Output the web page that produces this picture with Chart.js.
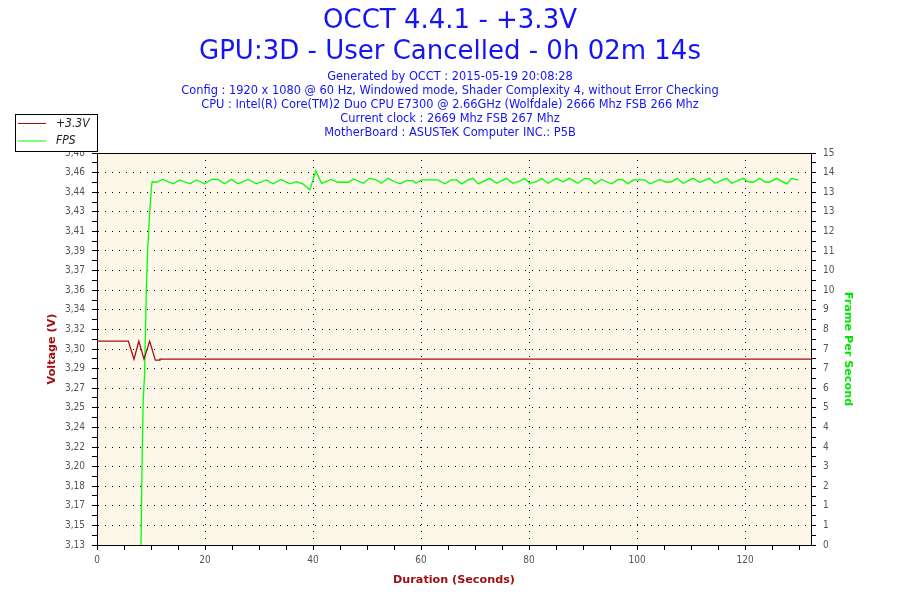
<!DOCTYPE html>
<html>
<head>
<meta charset="utf-8">
<title>OCCT 4.4.1 - +3.3V</title>
<script src="https://cdn.jsdelivr.net/npm/chart.js@4/dist/chart.umd.min.js"></script>
<style>
  html, body { margin: 0; padding: 0; background: #fff; }
  #wrap { width: 900px; height: 600px; }
</style>
</head>
<body>
<div id="wrap"><canvas id="occt" width="900" height="600"></canvas></div>
<script>
// values
const voltTime = [0, 5.8, 6.85, 7.75, 8.7, 9.75, 10.8, 11.6, 11.65, 132.2];
const voltValues = [3.312, 3.312, 3.296, 3.312, 3.296, 3.312, 3.295, 3.295, 3.296, 3.296];

const fpsTime = [
  8.15, 8.35, 8.55, 8.8, 9.15, 9.4, 9.75, 10.05, 10.2, 11.0,
  12.2, 14.1, 15.3, 17.2, 18.4, 19.9, 21.2, 22.4, 23.6, 24.9,
  26.1, 28.0, 29.5, 31.4, 32.6, 34.1, 35.7, 36.9, 38.1, 39.4,
  40.5, 41.6, 43.4, 44.6, 46.5, 47.5, 49.3, 50.5, 51.7, 52.7,
  53.9, 55.1, 56.1, 57.3, 58.5, 59.1, 60.1, 63.1, 64.4, 65.6,
  66.6, 67.5, 68.7, 69.6, 70.6, 72.7, 74.0, 75.8, 77.0, 78.0,
  79.2, 80.1, 81.4, 82.3, 83.5, 85.1, 86.3, 87.5, 89.0, 90.3,
  91.2, 92.2, 93.4, 94.3, 95.3, 96.5, 97.4, 98.3, 99.3, 101.4,
  102.4, 104.2, 105.4, 106.4, 107.4, 108.5, 110.4, 111.6, 113.4, 114.4,
  116.6, 117.5, 119.6, 120.6, 121.5, 122.7, 123.6, 124.5, 125.8, 127.7,
  128.6, 129.8
];
const fpsValues = [
  0, 3.2, 5.5, 6.5, 9.9, 11.4, 12.7, 13.6, 13.9, 13.88,
  13.99, 13.82, 13.97, 13.82, 13.97, 13.82, 13.99, 13.99, 13.82, 13.99,
  13.82, 13.99, 13.82, 13.97, 13.82, 13.99, 13.82, 13.90, 13.82, 13.59,
  14.31, 13.84, 13.99, 13.88, 13.88, 14.01, 13.84, 14.03, 13.97, 13.84,
  14.03, 13.90, 13.82, 13.94, 13.94, 13.84, 13.97, 13.97, 13.82, 13.97,
  13.97, 13.82, 13.97, 14.03, 13.82, 14.03, 13.84, 14.03, 13.84, 13.90,
  14.03, 13.84, 13.90, 14.03, 13.84, 14.03, 13.90, 14.03, 13.84, 14.03,
  14.01, 13.82, 13.99, 13.90, 13.82, 13.99, 13.97, 13.82, 13.97, 13.97,
  13.82, 13.99, 13.88, 13.90, 14.03, 13.84, 14.03, 13.88, 14.03, 13.84,
  14.03, 13.84, 14.03, 13.90, 13.88, 14.03, 13.90, 13.88, 14.03, 13.82,
  14.03, 13.97
];

const voltTickLabels = ['3,13', '3,15', '3,17', '3,18', '3,20', '3,22', '3,24', '3,25', '3,27', '3,29', '3,30',
  '3,32', '3,34', '3,36', '3,37', '3,39', '3,41', '3,43', '3,44', '3,46', '3,48'];
const fpsTickLabels = ['0', '1', '1', '2', '3', '4', '4', '5', '6', '7', '7',
  '8', '9', '10', '10', '11', '12', '13', '13', '14', '15'];
const xTickLabels = ['0', '20', '40', '60', '80', '100', '120'];

const titleLines = ['OCCT 4.4.1 - +3.3V', 'GPU:3D - User Cancelled - 0h 02m 14s'];
const infoLines = [
  'Generated by OCCT : 2015-05-19 20:08:28',
  'Config : 1920 x 1080 @ 60 Hz, Windowed mode, Shader Complexity 4, without Error Checking',
  'CPU : Intel(R) Core(TM)2 Duo CPU E7300 @ 2.66GHz (Wolfdale) 2666 Mhz FSB 266 Mhz',
  'Current clock : 2669 Mhz FSB 267 Mhz',
  'MotherBoard : ASUSTeK Computer INC.: P5B'
];

const FONT = '"DejaVu Sans Condensed", "DejaVu Sans", sans-serif';
const WIDE = '"DejaVu Sans", sans-serif';
const BLUE = '#1414f5';
const DARKRED = '#a01010';
const GREEN = '#00e600';

// 40 steps on both value axes: every other one carries a label
function splitTicks(scale, labels) {
  const n = (labels.length - 1) * 2;
  const step = (scale.max - scale.min) / n;
  const t = [];
  for (let i = 0; i <= n; i++) t.push({ value: scale.min + i * step });
  scale.ticks = t;
}

const plotFrame = {
  id: 'plotFrame',
  beforeDraw(chart) {
    const a = chart.chartArea;
    const ctx = chart.ctx;
    ctx.save();
    ctx.fillStyle = '#fdf7ea';
    ctx.fillRect(a.left, a.top, a.right - a.left, a.bottom - a.top);
    ctx.restore();
  },
  afterDraw(chart) {
    const a = chart.chartArea;
    const ctx = chart.ctx;
    ctx.save();
    ctx.strokeStyle = '#000';
    ctx.lineWidth = 1;
    ctx.beginPath();
    ctx.moveTo(a.left, Math.round(a.top) + 0.5);
    ctx.lineTo(a.right, Math.round(a.top) + 0.5);
    ctx.stroke();

    // legend box, top left
    ctx.fillStyle = '#fff';
    ctx.fillRect(15.5, 114.5, 82, 37);
    ctx.strokeRect(15.5, 114.5, 82, 37);
    ctx.font = 'italic 12px ' + FONT;
    ctx.textBaseline = 'middle';
    chart.data.datasets.forEach((ds, i) => {
      const y = 123.5 + i * 17.5;
      ctx.strokeStyle = ds.borderColor;
      ctx.beginPath();
      ctx.moveTo(18, y);
      ctx.lineTo(46, y);
      ctx.stroke();
      ctx.fillStyle = '#222';
      ctx.fillText(ds.label, 56, y);
    });
    ctx.restore();
  }
};

const ctx = document.getElementById('occt').getContext('2d');
const chart = new Chart(ctx, {
  type: 'line',
  data: {
    datasets: [
      {
        label: '+3.3V',
        data: voltTime.map((t, i) => ({ x: t, y: voltValues[i] })),
        borderColor: DARKRED,
        borderWidth: 1.3,
        pointRadius: 0,
        yAxisID: 'y'
      },
      {
        label: 'FPS',
        data: fpsTime.map((t, i) => ({ x: t, y: fpsValues[i] })),
        borderColor: '#00ff00',
        borderWidth: 1.3,
        pointRadius: 0,
        yAxisID: 'y1'
      }
    ]
  },
  options: {
    responsive: false,
    animation: false,
    events: [],
    layout: { padding: 0 },
    plugins: {
      legend: { display: false },
      tooltip: { enabled: false },
      title: {
        display: true,
        text: titleLines,
        color: BLUE,
        font: { family: WIDE, size: 26, weight: 'normal', lineHeight: 31 / 26 },
        padding: { top: 6, bottom: 1 }
      },
      subtitle: {
        display: true,
        text: infoLines,
        color: BLUE,
        font: { family: WIDE, size: 11.4, lineHeight: 14 / 11.4 },
        padding: { top: 1, bottom: 13 }
      }
    },
    scales: {
      x: {
        type: 'linear',
        min: 0,
        max: 132.2,
        afterBuildTicks: s => {
          const t = [];
          for (let v = 0; v <= 130; v += 5) t.push({ value: v });
          s.ticks = t;
        },
        afterFit: s => { s.height = 55; },
        ticks: {
          autoSkip: false,
          maxRotation: 0,
          color: '#555',
          font: { family: FONT, size: 10 },
          padding: 4,
          callback: v => (v % 20 === 0 ? xTickLabels[v / 20] : '')
        },
        grid: {
          color: c => (c.tick && c.tick.value % 20 === 0 ? '#000' : 'rgba(0,0,0,0)'),
          tickColor: '#000',
          tickLength: 5
        },
        border: { color: '#000', width: 1, dash: [1, 6] },
        title: {
          display: true,
          text: 'Duration (Seconds)',
          color: DARKRED,
          font: { family: WIDE, size: 11.2, weight: 'bold' },
          padding: { top: 0, bottom: 13 }
        }
      },
      y: {
        position: 'left',
        min: 3.13,
        max: 3.48,
        afterBuildTicks: s => splitTicks(s, voltTickLabels),
        afterFit: s => { s.width = 97; },
        ticks: {
          autoSkip: false,
          color: '#555',
          font: { family: FONT, size: 10 },
          padding: 7,
          callback: (v, i) => (i % 2 === 0 ? voltTickLabels[i / 2] : '')
        },
        grid: {
          color: c => (c.index % 2 === 0 ? '#000' : 'rgba(0,0,0,0)'),
          tickColor: '#000',
          tickLength: 5
        },
        border: { color: '#000', width: 1, dash: [1, 6] },
        title: {
          display: true,
          text: 'Voltage (V)',
          color: DARKRED,
          font: { family: WIDE, size: 11.2, weight: 'bold' },
          padding: { top: 45, bottom: 0 }
        }
      },
      y1: {
        position: 'right',
        min: 0,
        max: 15,
        afterBuildTicks: s => splitTicks(s, fpsTickLabels),
        afterFit: s => { s.width = 89; },
        ticks: {
          autoSkip: false,
          color: '#555',
          font: { family: FONT, size: 10 },
          padding: 7,
          callback: (v, i) => (i % 2 === 0 ? fpsTickLabels[i / 2] : '')
        },
        grid: {
          drawOnChartArea: false,
          tickColor: '#000',
          tickLength: 5
        },
        border: { color: '#000', width: 1 },
        title: {
          display: true,
          text: 'Frame Per Second',
          color: GREEN,
          font: { family: WIDE, size: 11.2, weight: 'bold' },
          padding: { top: 45, bottom: 0 }
        }
      }
    }
  },
  plugins: [plotFrame]
});
</script>
</body>
</html>
